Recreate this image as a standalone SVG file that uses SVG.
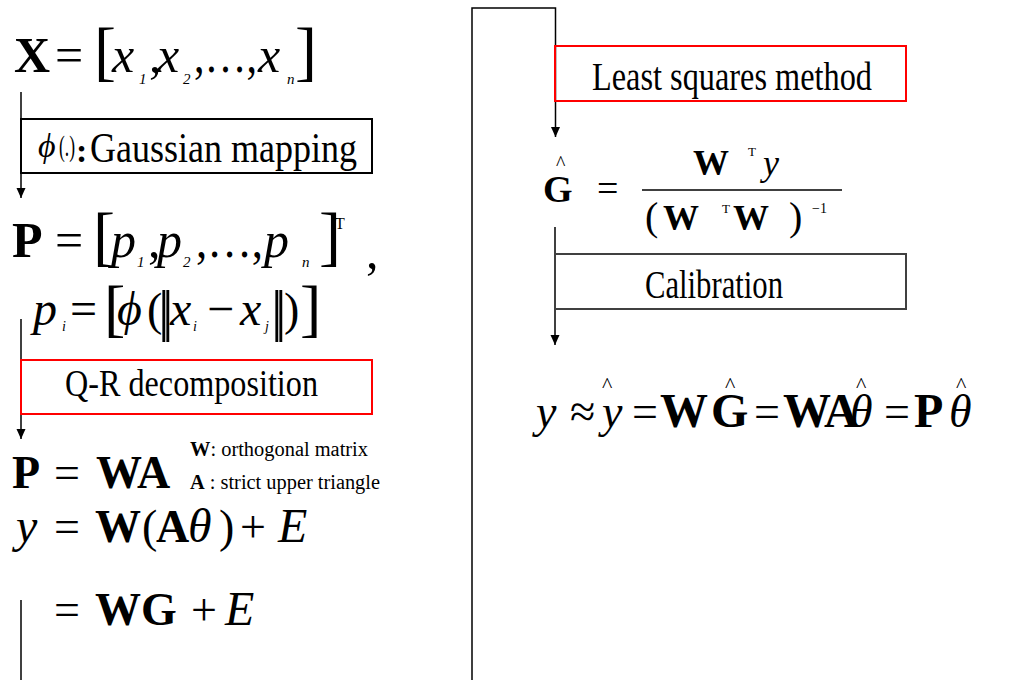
<svg xmlns="http://www.w3.org/2000/svg" width="1013" height="680" viewBox="0 0 1013 680">
<style>
.t{font-family:"Liberation Serif","Times New Roman",serif;fill:#000}
.i{font-style:italic}
.b{font-weight:bold}
.ln{stroke:#000;stroke-width:1.5;fill:none}
.bx{fill:none;stroke-width:2}
</style>
<defs>
<marker id="ah" markerWidth="10" markerHeight="10" refX="10" refY="4.5" orient="auto" markerUnits="userSpaceOnUse">
<path d="M0,0 L10,4.5 L0,9 z" fill="#000"/>
</marker>
</defs>
<rect width="1013" height="680" fill="#fff"/>

<g id="connectors">
<line class="ln" x1="21" y1="92" x2="21" y2="198" marker-end="url(#ah)"/>
<line class="ln" x1="21" y1="319" x2="21" y2="439" marker-end="url(#ah)"/>
<line class="ln" x1="21" y1="600" x2="21" y2="680"/>
<polyline class="ln" points="472,680 472,8 555.5,8 555.5,137" marker-end="url(#ah)"/>
<line class="ln" x1="555" y1="227" x2="555" y2="345" marker-end="url(#ah)"/>
</g>

<g id="eqX" class="t">
<text class="b" x="14" y="72" font-size="50">X</text>
<text x="55" y="72" font-size="50">=</text>
<text x="94" y="73" font-size="66">[</text>
<text class="i" x="112" y="72" font-size="50">x</text>
<text class="i" x="139" y="84" font-size="15">1</text>
<text x="149" y="72" font-size="50">,</text>
<text class="i" x="157" y="72" font-size="50">x</text>
<text class="i" x="183" y="84" font-size="15">2</text>
<text x="194" y="72" font-size="50" textLength="63" lengthAdjust="spacingAndGlyphs">,…,</text>
<text class="i" x="258" y="72" font-size="50">x</text>
<text class="i" x="287" y="84" font-size="15">n</text>
<text x="295" y="73" font-size="66">]</text>
</g>

<g id="boxGaussian">
<rect class="bx" x="21" y="119" width="351" height="54" stroke="#000"/>
<text class="t i" x="38" y="157" font-size="34">ϕ</text>
<text class="t" x="59" y="156" font-size="30" textLength="16" lengthAdjust="spacingAndGlyphs">(.)</text>
<text class="t b" x="76" y="162" font-size="34">:</text>
<text class="t" x="90" y="162" font-size="42" textLength="267" lengthAdjust="spacingAndGlyphs">Gaussian mapping</text>
</g>

<g id="eqP" class="t">
<text class="b" x="12" y="257" font-size="50">P</text>
<text x="55" y="257" font-size="50">=</text>
<text x="93" y="258" font-size="66">[</text>
<text class="i" x="111" y="257" font-size="50">p</text>
<text class="i" x="137" y="267" font-size="15">1</text>
<text x="148" y="257" font-size="50">,</text>
<text class="i" x="157" y="257" font-size="50">p</text>
<text class="i" x="183" y="267" font-size="15">2</text>
<text x="196" y="257" font-size="50" textLength="67" lengthAdjust="spacingAndGlyphs">,…,</text>
<text class="i" x="264" y="257" font-size="50">p</text>
<text class="i" x="302" y="267" font-size="15">n</text>
<text x="319" y="258" font-size="66">]</text>
<text x="335" y="229" font-size="16">T</text>
<text x="366" y="268" font-size="50">,</text>
</g>

<g id="eqPi" class="t">
<text class="i" x="33" y="325" font-size="48">p</text>
<text class="i" x="62" y="331" font-size="14">i</text>
<text x="70" y="325" font-size="48">=</text>
<text x="104" y="329" font-size="64">[</text>
<text class="i" x="117" y="325" font-size="48">ϕ</text>
<text x="147" y="325" font-size="46">(</text>
<text x="158" y="330" font-size="58">|</text>
<text x="162" y="330" font-size="58">|</text>
<text class="i" x="170" y="325" font-size="48">x</text>
<text class="i" x="193" y="331" font-size="14">i</text>
<text x="207" y="325" font-size="48">−</text>
<text class="i" x="240" y="325" font-size="48">x</text>
<text class="i" x="265" y="331" font-size="14">j</text>
<text x="271" y="330" font-size="58">|</text>
<text x="275" y="330" font-size="58">|</text>
<text x="284" y="325" font-size="46">)</text>
<text x="300" y="329" font-size="64">]</text>
</g>

<g id="boxQR">
<rect class="bx" x="21" y="360" width="351" height="54" stroke="#f00" stroke-width="1.5"/>
<text class="t" x="65" y="396" font-size="38" textLength="253" lengthAdjust="spacingAndGlyphs">Q-R decomposition</text>
</g>

<g id="eqWA" class="t">
<text class="b" x="12" y="488" font-size="46">P</text>
<text x="54" y="488" font-size="46">=</text>
<text class="b" x="96" y="488" font-size="46">WA</text>
<text x="190" y="456" font-size="20" textLength="178" lengthAdjust="spacingAndGlyphs"><tspan class="b">W</tspan>: orthogonal matrix</text>
<text x="190" y="489" font-size="20" textLength="190" lengthAdjust="spacingAndGlyphs"><tspan class="b">A</tspan> : strict upper triangle</text>
</g>

<g id="eqY" class="t">
<text class="i" x="16" y="542" font-size="48">y</text>
<text x="54" y="542" font-size="46">=</text>
<text class="b" x="95" y="542" font-size="46">W</text>
<text x="142" y="542" font-size="46">(</text>
<text class="b" x="156" y="542" font-size="46">A</text>
<text class="i" x="188" y="542" font-size="48">θ</text>
<text x="219" y="542" font-size="46">)</text>
<text x="240" y="542" font-size="46">+</text>
<text class="i" x="278" y="542" font-size="48">E</text>
</g>

<g id="eqWG" class="t">
<text x="54" y="625" font-size="46">=</text>
<text class="b" x="95" y="625" font-size="46">WG</text>
<text x="191" y="625" font-size="46">+</text>
<text class="i" x="225" y="625" font-size="48">E</text>
</g>

<g id="boxLS">
<rect class="bx" x="555" y="46" width="351" height="55" stroke="#f00" stroke-width="1.5"/>
<text class="t" x="592" y="90" font-size="40" textLength="280" lengthAdjust="spacingAndGlyphs">Least squares method</text>
</g>

<g id="eqG" class="t">
<text x="556" y="170" font-size="20">^</text>
<text class="b" x="543" y="202" font-size="38">G</text>
<text x="597" y="201" font-size="38">=</text>
<text class="b" x="693" y="175" font-size="36">W</text>
<text x="748" y="156" font-size="13">T</text>
<text class="i" x="763" y="175" font-size="36">y</text>
<line x1="642" y1="190" x2="842" y2="190" stroke="#000" stroke-width="1.5"/>
<text x="645" y="230" font-size="40">(</text>
<text class="b" x="663" y="230" font-size="36">W</text>
<text x="722" y="213" font-size="13">T</text>
<text class="b" x="733" y="230" font-size="36">W</text>
<text x="789" y="230" font-size="40">)</text>
<text x="812" y="213" font-size="14">−1</text>
</g>

<g id="boxCal">
<rect class="bx" x="555" y="254" width="351" height="55" stroke="#404040"/>
<text class="t" x="645" y="298" font-size="41" textLength="138" lengthAdjust="spacingAndGlyphs">Calibration</text>
</g>

<g id="eqFinal" class="t">
<text class="i" x="536" y="427" font-size="46">y</text>
<text x="570" y="427" font-size="46">≈</text>
<text x="602" y="392" font-size="22">^</text>
<text class="i" x="602" y="427" font-size="46">y</text>
<text x="632" y="427" font-size="46">=</text>
<text class="b" x="660" y="427" font-size="48">W</text>
<text x="725" y="392" font-size="22">^</text>
<text class="b" x="711" y="427" font-size="48">G</text>
<text x="754" y="427" font-size="46">=</text>
<text class="b" x="783" y="427" font-size="48">W</text>
<text class="b" x="824" y="427" font-size="48">A</text>
<text x="856" y="392" font-size="22">^</text>
<text class="i" x="850" y="427" font-size="46">θ</text>
<text x="884" y="427" font-size="46">=</text>
<text class="b" x="914" y="427" font-size="48">P</text>
<text x="956" y="392" font-size="22">^</text>
<text class="i" x="949" y="427" font-size="46">θ</text>
</g>
</svg>
